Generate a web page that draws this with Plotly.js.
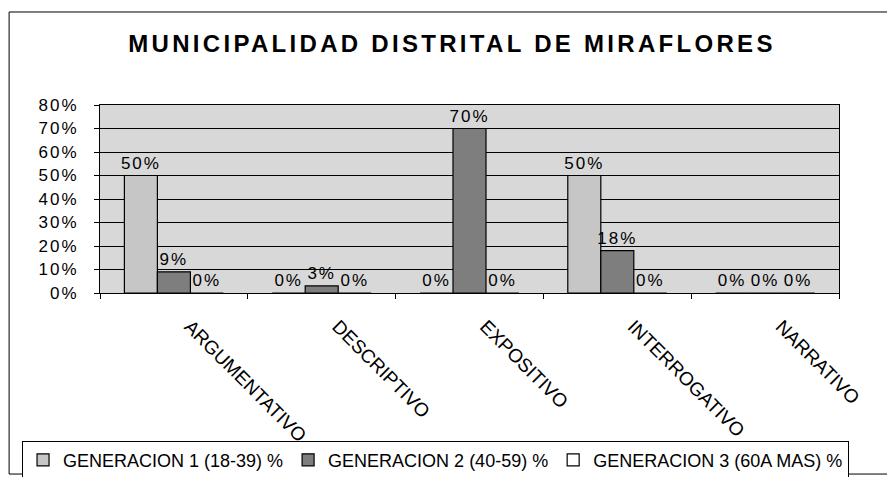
<!DOCTYPE html>
<html>
<head>
<meta charset="utf-8">
<script src="https://cdn.plot.ly/plotly-3.0.1.min.js"></script>
<style>
  html, body { margin: 0; padding: 0; background: #ffffff; }
  #chart { width: 887px; height: 477px; }
  .gtitle { letter-spacing: 3.3px; }
  .ytick text, .bartext { letter-spacing: 2px; }
</style>
</head>
<body>
<div id="chart"></div>
<script>
const categories = ['ARGUMENTATIVO', 'DESCRIPTIVO', 'EXPOSITIVO', 'INTERROGATIVO', 'NARRATIVO'];
const seriesNames = ['GENERACION 1 (18-39) %', 'GENERACION 2 (40-59) %', 'GENERACION 3 (60A MAS) %'];
const gen1 = [50, 0, 0, 50, 0];
const gen2 = [9, 3, 70, 18, 0];
const gen3 = [0, 0, 0, 0, 0];
const yTickVals = [0, 10, 20, 30, 40, 50, 60, 70, 80];
const yTickText = ['0%', '10%', '20%', '30%', '40%', '50%', '60%', '70%', '80%'];
const chartTitle = 'MUNICIPALIDAD DISTRITAL DE MIRAFLORES';

const fills = ['#c6c6c6', '#7e7e7e', '#ffffff'];
const seriesValues = [gen1, gen2, gen3];

const traces = seriesValues.map((vals, i) => ({
  type: 'bar',
  name: seriesNames[i],
  x: categories,
  y: vals,
  text: vals.map(v => v + '%'),
  textposition: 'outside',
  constraintext: 'none',
  cliponaxis: false,
  textfont: { family: 'Liberation Sans, Arial, sans-serif', size: 17, color: '#000000' },
  marker: { color: fills[i], line: { color: '#000000', width: 1.2 } },
  hoverinfo: 'skip'
}));

const layout = {
  width: 887,
  height: 477,
  margin: { l: 100, r: 48, t: 105, b: 184, autoexpand: false },
  paper_bgcolor: '#ffffff',
  plot_bgcolor: '#d8d8d8',
  barmode: 'group',
  bargap: 0.33,
  bargroupgap: 0,
  showlegend: true,
  title: {
    text: chartTitle,
    font: { family: 'Liberation Sans, Arial, sans-serif', size: 24, weight: 'bold', color: '#000000' },
    x: 0.5096, xanchor: 'center', xref: 'container',
    y: 0.908, yanchor: 'middle', yref: 'container'
  },
  xaxis: {
    type: 'category',
    showline: true, linecolor: '#000000', linewidth: 1, mirror: true,
    showgrid: false,
    ticks: 'outside', ticklen: 5, tickcolor: '#000000', tickson: 'boundaries',
    tickangle: 45,
    ticklabelstandoff: 14,
    ticklabelshift: 16,
    tickfont: { family: 'Liberation Sans, Arial, sans-serif', size: 19, color: '#000000' }
  },
  yaxis: {
    range: [0, 80],
    tickvals: yTickVals,
    ticktext: yTickText,
    showgrid: true, gridcolor: '#000000', gridwidth: 1,
    showline: true, linecolor: '#000000', linewidth: 1, mirror: true,
    ticks: 'outside', ticklen: 5, tickcolor: '#000000',
    ticklabelstandoff: 12,
    zeroline: false,
    tickfont: { family: 'Liberation Sans, Arial, sans-serif', size: 17, color: '#000000' }
  },
  legend: {
    orientation: 'h',
    x: -0.1055, xanchor: 'left',
    y: -0.785, yanchor: 'top',
    bgcolor: '#ffffff',
    bordercolor: '#000000', borderwidth: 1,
    traceorder: 'normal',
    itemwidth: 30,
    font: { family: 'Liberation Sans, Arial, sans-serif', size: 18, color: '#000000' }
  },
  shapes: [{
    type: 'rect', xref: 'paper', yref: 'paper',
    x0: -0.123, x1: 1.08, y0: -0.963, y1: 1.4947,
    line: { color: '#000000', width: 1 }, fillcolor: 'rgba(0,0,0,0)'
  }]
};

Plotly.newPlot('chart', traces, layout, { staticPlot: true, displayModeBar: false });
</script>
</body>
</html>
